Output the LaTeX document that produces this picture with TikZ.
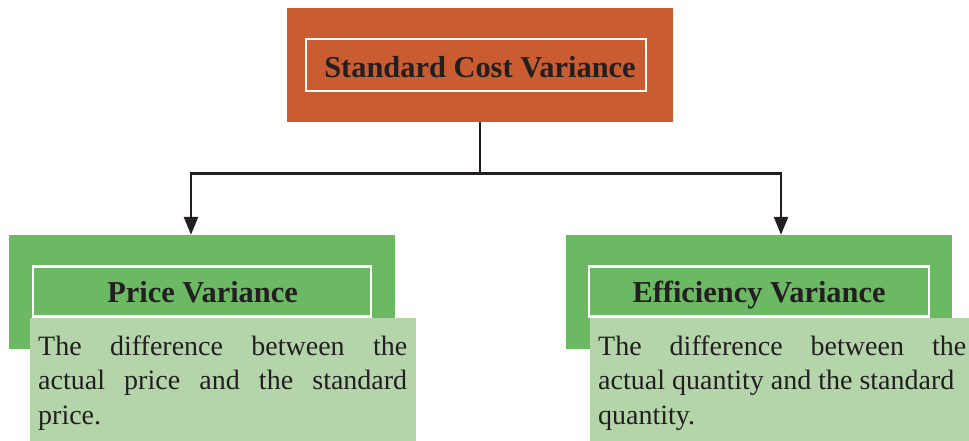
\documentclass[tikz,border=0pt]{standalone}
\usepackage{fontspec}
\setmainfont{Liberation Serif}
\usetikzlibrary{arrows.meta}
\definecolor{rust}{HTML}{C95C31}
\definecolor{leaf}{HTML}{6CB963}
\definecolor{pale}{HTML}{B3D5A9}
\definecolor{ink}{HTML}{231F20}
\begin{document}
\begin{tikzpicture}[x=1pt,y=-1pt,
  panel/.style={rectangle, inner sep=0, draw=none},
  frame/.style={rectangle, inner sep=0, draw=white, line width=2.4pt},
  heading/.style={inner sep=0, anchor=base, text=ink,
    font=\fontsize{30.4}{34}\selectfont\bfseries},
  body/.style={inner sep=0, anchor=base west, text=ink, align=justify,
    font=\fontsize{28}{34.5}\selectfont},
  link/.style={draw=ink, line width=2.6pt},
  arrow/.style={link, -{Triangle[length=18pt,width=14pt]}}]
\useasboundingbox (0,0) rectangle (969,441);
\fill[white] (0,0) rectangle (969,441);

% root box
\node[panel, fill=rust, minimum width=386pt, minimum height=114pt] (root) at (480,65) {};
\node[frame, minimum width=340pt, minimum height=52pt] (rootframe) at (476,65) {};
\node[heading] (roottitle) at (480,77.7) {Standard Cost Variance};

% left branch
\node[panel, fill=leaf, minimum width=386pt, minimum height=114pt] (left) at (202,292) {};
\node[frame, minimum width=338pt, minimum height=50pt] (leftframe) at (202,291.4) {};
\node[heading] (lefttitle) at (202.5,302.7) {Price Variance};
\node[panel, fill=pale, minimum width=386pt, minimum height=123pt] (leftnote) at (223,379.5) {};
\node[body, text width=369pt] (lefttext) at (38,355)
  {The difference between the\linebreak actual price and the standard\linebreak price.};

% right branch
\node[panel, fill=leaf, minimum width=386pt, minimum height=114pt] (right) at (759,292) {};
\node[frame, minimum width=340pt, minimum height=50pt] (rightframe) at (759,291.4) {};
\node[heading] (righttitle) at (759,302.7) {Efficiency Variance};
\node[panel, fill=pale, minimum width=386pt, minimum height=123pt] (rightnote) at (783,379.5) {};
\node[body, text width=368pt] (righttext) at (598,355)
  {The difference between the\linebreak actual quantity and the standard\\ quantity.};

% connectors
\coordinate (hub) at (480,173.3);
\coordinate (jl) at (191,173.3);
\coordinate (jr) at (781,173.3);
\draw[link] (root.south) -- (hub);
\draw[link, line cap=rect] (jl) -- (jr);
\draw[arrow] (jl) -- (jl |- left.north);
\draw[arrow] (jr) -- (jr |- right.north);
\end{tikzpicture}
\end{document}
